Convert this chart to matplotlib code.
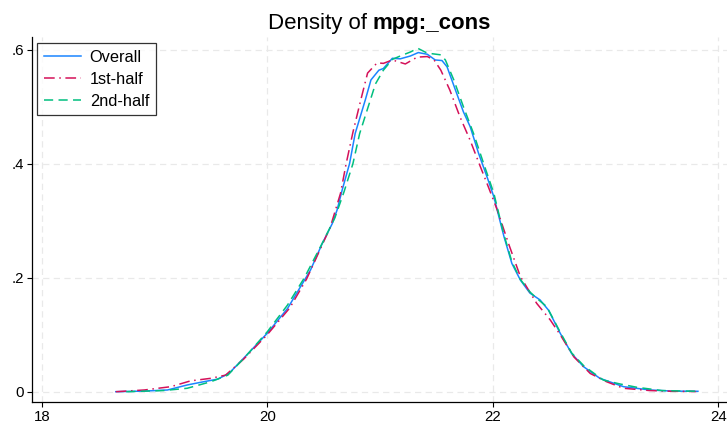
import numpy as np
import matplotlib
matplotlib.use('Agg')
import matplotlib.pyplot as plt

plt.rcParams['font.family'] = ['Liberation Sans', 'DejaVu Sans']

# kernel density curves
x_all = [18.657, 18.9, 19.115, 19.29, 19.45, 19.56, 19.66, 19.79, 20.0, 20.18, 20.384, 20.488, 20.577,
         20.62, 20.665, 20.73, 20.78, 20.87, 20.92, 20.99, 21.03, 21.11, 21.18, 21.27, 21.34, 21.42,
         21.49, 21.55, 21.595, 21.67, 21.74, 21.80, 21.875, 21.96, 22.01, 22.10, 22.17, 22.245,
         22.33, 22.42, 22.495, 22.60, 22.70, 22.805, 22.95, 23.16, 23.395, 23.6, 23.82]
y_all = [0.0, 0.001, 0.003, 0.0118, 0.018, 0.022, 0.032, 0.0585, 0.1025, 0.146, 0.2135, 0.26, 0.295,
         0.319, 0.354, 0.40, 0.453, 0.512, 0.547, 0.564, 0.567, 0.585, 0.584, 0.589, 0.595, 0.592,
         0.582, 0.581, 0.570, 0.529, 0.491, 0.465, 0.418, 0.371, 0.342, 0.272, 0.225, 0.196,
         0.173, 0.161, 0.143, 0.102, 0.067, 0.044, 0.0235, 0.0088, 0.003, 0.001, 0.0007]

x_first = [18.657, 18.91, 19.145, 19.32, 19.50, 19.63, 19.79, 20.0, 20.2, 20.35, 20.56, 20.65, 20.70,
           20.76, 20.83, 20.89, 20.975, 21.03, 21.11, 21.225, 21.33, 21.42, 21.48, 21.54, 21.62,
           21.71, 21.80, 21.89, 21.96, 22.04, 22.14, 22.245, 22.39, 22.51, 22.60, 22.72, 22.865,
           23.01, 23.16, 23.395, 23.6, 23.8]
y_first = [0.0, 0.003, 0.0088, 0.019, 0.0235, 0.029, 0.057, 0.10, 0.147, 0.198, 0.289, 0.348, 0.40,
           0.455, 0.512, 0.559, 0.577, 0.576, 0.582, 0.575, 0.587, 0.588, 0.582, 0.564, 0.529,
           0.482, 0.441, 0.395, 0.36, 0.319, 0.26, 0.202, 0.155, 0.126, 0.0995, 0.061, 0.032,
           0.0175, 0.006, 0.002, 0.0007, 0.0003]

x_second = [18.75, 19.08, 19.29, 19.50, 19.65, 19.80, 20.0, 20.18, 20.33, 20.50, 20.60, 20.68, 20.76,
            20.82, 20.915, 20.96, 21.03, 21.11, 21.18, 21.27, 21.335, 21.42, 21.54, 21.58, 21.655,
            21.74, 21.83, 21.92, 22.01, 22.10, 22.17, 22.245, 22.33, 22.39, 22.48, 22.60, 22.70,
            22.81, 22.98, 23.13, 23.28, 23.5, 23.82]
y_second = [0.0, 0.002, 0.006, 0.0175, 0.029, 0.06, 0.105, 0.152, 0.20, 0.265, 0.305, 0.35, 0.40,
            0.453, 0.512, 0.540, 0.564, 0.583, 0.589, 0.596, 0.6025, 0.594, 0.591, 0.582, 0.547,
            0.50, 0.453, 0.40, 0.348, 0.275, 0.228, 0.197, 0.175, 0.164, 0.149, 0.104, 0.068,
            0.045, 0.0205, 0.0135, 0.0077, 0.002, 0.0007]

xticks = [18, 20, 22, 24]
yticks = [0, 0.2, 0.4, 0.6]
ylabels = ['0', '.2', '.4', '.6']

W, H = 727, 424
fig = plt.figure(figsize=(W / 100, H / 100), dpi=100)
ax = fig.add_axes([31.7 / W, 1 - 402.3 / H, 1 - 31.7 / W, (402.3 - 37) / H])

ax.plot(x_all, y_all, color='#1a85ff', lw=1.1, label='Overall')
ax.plot(x_first, y_first, color='#d41159', lw=1.1, dashes=(7, 3, 1, 3), label='1st-half')
ax.plot(x_second, y_second, color='#00bf7f', lw=1.1, dashes=(6, 3.5), label='2nd-half')

ax.set_xlim(17.911, 24.078)
ax.set_ylim(-0.0186, 0.6223)
ax.set_xticks(xticks)
ax.set_yticks(yticks)
ax.set_yticklabels(ylabels)
ax.tick_params(direction='out', length=3.5, width=0.8, labelsize=10.8, pad=2, color='black')
for s in ['top', 'right']:
    ax.spines[s].set_visible(False)
for s in ['left', 'bottom']:
    ax.spines[s].set_linewidth(0.9)
ax.grid(True, color='#e9e9e9', lw=0.9, dashes=(5, 3.5))
ax.set_axisbelow(True)

leg = ax.legend(loc='upper left', bbox_to_anchor=(37.3 / W, 1 - 43.3 / H), bbox_transform=fig.transFigure,
                borderaxespad=0, fontsize=11.8, frameon=True, fancybox=False, handlelength=2.25,
                handletextpad=0.55, labelspacing=0.42, borderpad=0.4)
leg.get_frame().set_edgecolor('black')
leg.get_frame().set_linewidth(0.9)

# title: plain part + bold part, centred over the axes
fig.canvas.draw()
r = fig.canvas.get_renderer()
t1 = fig.text(0, 1 - 29 / H, 'Density of ', fontsize=16, ha='left', va='baseline')
t2 = fig.text(0, 1 - 29 / H, 'mpg:_cons', fontsize=16, fontweight='bold', ha='left', va='baseline')
w1 = t1.get_window_extent(r).width
w2 = t2.get_window_extent(r).width
cx = (31.7 + W) / 2
start = cx - (w1 + w2) / 2
t1.set_x(start / W)
t2.set_x((start + w1) / W)

fig.savefig('out.png', dpi=100)
